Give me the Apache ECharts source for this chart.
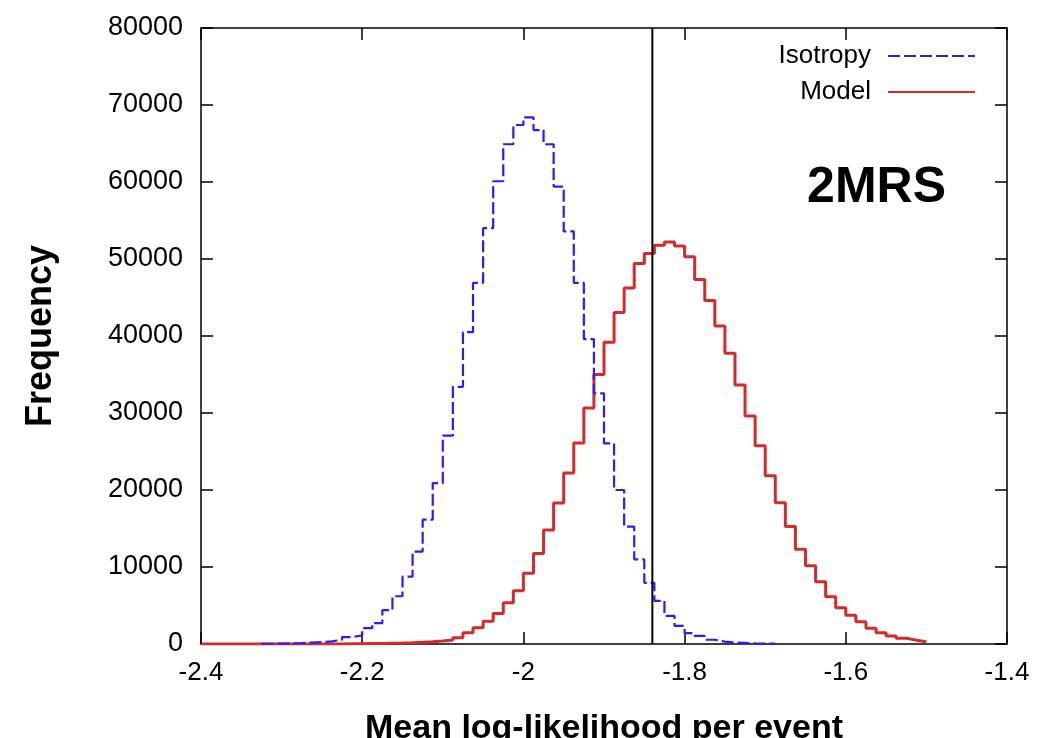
<!DOCTYPE html>
<html>
<head>
<meta charset="utf-8">
<script src="https://cdn.jsdelivr.net/npm/echarts@6/dist/echarts.min.js"></script>
<style>
html,body{margin:0;padding:0;background:#fff;overflow:hidden;}
#c{width:1039px;height:738px;}
</style>
</head>
<body>
<div id="c"></div>
<script>
// ---- data ----
const binStart = -2.4;
const binWidth = 0.0125;
const observedValue = -1.84;
const xTicks = [-2.4, -1.4, 0.2];      // min, max, interval
const yTicks = [0, 80000, 10000];      // min, max, interval
const isotropyFirstBin = 6;
const isotropy = [30, 50, 80, 120, 180, 250, 350, 550, 900, 1100, 2050, 2700, 4400, 6200, 8750, 12000, 16150, 20900, 27050, 33400, 40500, 46900, 54000, 60100, 64900, 67400, 68400, 66750, 64900, 59400, 53600, 46900, 39600, 32550, 26050, 20000, 15250, 11000, 7950, 5600, 3650, 2350, 1400, 1050, 550, 300, 200, 150, 100, 60, 40];
const modelFirstBin = 0;
const model = [0, 0, 0, 0, 0, 0, 0, 0, 0, 0, 0, 0, 0, 10, 20, 30, 50, 70, 100, 130, 170, 220, 280, 380, 520, 800, 1450, 2100, 2950, 3950, 5350, 6900, 9200, 11750, 14800, 18300, 22200, 26100, 30650, 35000, 39200, 43050, 46250, 49400, 50700, 51800, 52200, 51700, 50300, 47350, 44600, 41300, 37750, 33650, 29600, 25750, 21850, 18350, 15250, 12300, 10150, 8100, 6150, 4700, 3750, 2900, 2050, 1450, 1050, 750, 500, 300];
const seriesNames = ['Isotropy', 'Model'];
const title2 = '2MRS';
const xName = 'Mean log-likelihood per event';
const yName = 'Frequency';

function steps(first, values) {
  const pts = values.map((v, i) => [binStart + (first + i) * binWidth, v]);
  pts.push([binStart + (first + values.length) * binWidth, values[values.length - 1]]);
  return pts;
}

const FONT = 'Liberation Sans, Arial, sans-serif';
const axisBase = {
  type: 'value',
  axisLine: { show: true, onZero: false, lineStyle: { color: '#000', width: 1.5 } },
  axisTick: { show: true, inside: true, length: 12, lineStyle: { color: '#000', width: 1.5 } },
  splitLine: { show: false },
};

const chart = echarts.init(document.getElementById('c'), null, { renderer: 'canvas' });
chart.setOption({
  animation: false,
  backgroundColor: '#fff',
  grid: { left: 201, right: 32, top: 28, bottom: 94, containLabel: false, outerBoundsMode: 'none' },
  title: {
    text: title2, right: 88, top: 158,
    textStyle: { fontFamily: FONT, fontWeight: 'bold', fontSize: 50, color: '#000' }
  },
  legend: {
    data: seriesNames,
    orient: 'vertical', right: 58, top: 38,
    align: 'right', itemWidth: 87, itemHeight: 14, itemGap: 10,
    itemStyle: { opacity: 0 },
    textStyle: { fontFamily: FONT, fontSize: 26, lineHeight: 26, color: '#000', padding: [0, 12, 0, 0] }
  },
  xAxis: [
    Object.assign({}, axisBase, {
      min: xTicks[0], max: xTicks[1], interval: xTicks[2], position: 'bottom',
      axisLabel: { color: '#000', fontSize: 26, fontFamily: FONT, margin: 16,
        formatter: v => String(Math.round(v * 10) / 10) },
      name: xName, nameLocation: 'middle', nameGap: 68,
      nameTextStyle: { fontFamily: FONT, fontWeight: 'bold', fontSize: 34, color: '#000' }
    }),
    Object.assign({}, axisBase, {
      min: xTicks[0], max: xTicks[1], interval: xTicks[2], position: 'top',
      axisLabel: { show: false }
    })
  ],
  yAxis: [
    Object.assign({}, axisBase, {
      min: yTicks[0], max: yTicks[1], interval: yTicks[2], position: 'left',
      axisLabel: { color: '#000', fontSize: 27, fontFamily: FONT, margin: 18,
        formatter: v => String(v) },
      name: yName, nameLocation: 'middle', nameGap: 142, nameRotate: 90,
      nameTextStyle: { fontFamily: FONT, fontWeight: 'bold', fontSize: 36, color: '#000' }
    }),
    Object.assign({}, axisBase, {
      min: yTicks[0], max: yTicks[1], interval: yTicks[2], position: 'right',
      axisLabel: { show: false }
    })
  ],
  series: [
    {
      name: seriesNames[0], type: 'line', step: 'end', symbol: 'none', showSymbol: false,
      data: steps(isotropyFirstBin, isotropy),
      color: '#2a1cff',
      lineStyle: { color: '#2a1cff', width: 2.2, type: [12, 4] },
      z: 3
    },
    {
      name: seriesNames[1], type: 'line', step: 'end', symbol: 'none', showSymbol: false,
      data: steps(modelFirstBin, model),
      color: '#d42a2a',
      lineStyle: { color: '#d42a2a', width: 3 },
      z: 2
    },
    {
      name: 'observed', type: 'line', symbol: 'none', showSymbol: false,
      data: [[observedValue, yTicks[0]], [observedValue, yTicks[1]]],
      lineStyle: { color: '#000', width: 2 },
      z: 4
    }
  ]
});
</script>
</body>
</html>
